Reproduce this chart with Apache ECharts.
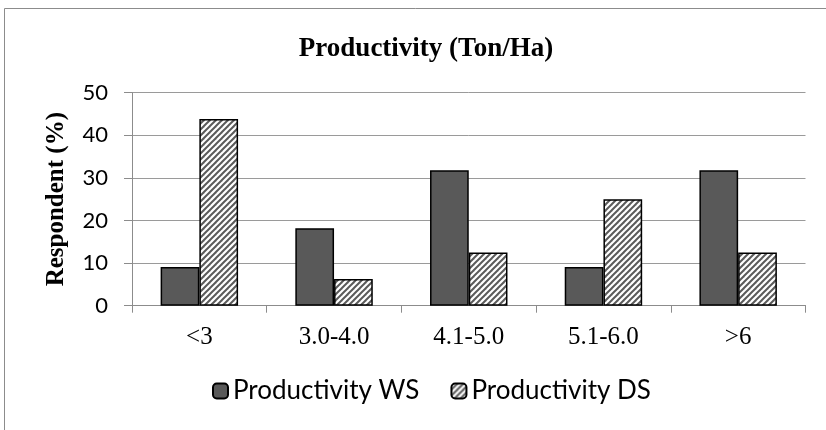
<!DOCTYPE html>
<html>
<head>
<meta charset="utf-8">
<script src="https://cdn.jsdelivr.net/npm/echarts@6/dist/echarts.min.js"></script>
<style>
html,body{margin:0;padding:0;background:#fff;}
#c{width:826px;height:430px;}
</style>
</head>
<body>
<div id="c"></div>
<script>
const categories = ['<3', '3.0-4.0', '4.1-5.0', '5.1-6.0', '>6'];
const productivityWS = [9.1, 18.2, 31.8, 9.1, 31.8];
const productivityDS = [43.8, 6.25, 12.5, 25.0, 12.5];
const seriesNames = ['Productivity WS', 'Productivity DS'];

function hatch() {
  const s = 6;
  const cv = document.createElement('canvas');
  cv.width = s; cv.height = s;
  const ctx = cv.getContext('2d');
  ctx.fillStyle = '#ffffff';
  ctx.fillRect(0, 0, s, s);
  ctx.strokeStyle = '#5a5a5a';
  ctx.lineWidth = 2;
  for (let k = -1; k <= 2; k++) {
    ctx.beginPath();
    ctx.moveTo(k * s - s, s + s);
    ctx.lineTo(k * s + s + s, -s);
    ctx.stroke();
  }
  return cv;
}

const chart = echarts.init(document.getElementById('c'), null, {renderer: 'canvas'});
const sansFont = 'Lato';
const serifFont = 'Liberation Serif';

chart.setOption({
  animation: false,
  backgroundColor: '#ffffff',
  graphic: [{
    type: 'rect',
    shape: {x: 4.5, y: 8.5, width: 900, height: 500},
    style: {fill: 'none', stroke: '#8c8c8c', lineWidth: 1},
    silent: true, z: -1
  }],
  title: {
    text: 'Productivity (Ton/Ha)',
    left: 421,
    textAlign: 'center',
    top: 31,
    textStyle: {fontFamily: serifFont, fontWeight: 'bold', fontSize: 27, color: '#000'}
  },
  legend: {
    data: seriesNames,
    top: 373,
    left: 207,
    itemWidth: 15,
    itemHeight: 15,
    itemGap: 31,
    textStyle: {fontFamily: sansFont, fontSize: 26, color: '#000'}
  },
  grid: {left: 132, right: 20.5, top: 92.7, bottom: 124.3},
  xAxis: {
    type: 'category',
    data: categories,
    axisLine: {lineStyle: {color: '#8c8c8c', width: 1}},
    axisTick: {show: true, alignWithLabel: false, length: 7, lineStyle: {color: '#8c8c8c'}},
    axisLabel: {fontFamily: serifFont, fontSize: 25, color: '#000', margin: 19}
  },
  yAxis: {
    type: 'value',
    min: 0, max: 50, interval: 10,
    name: 'Respondent (%)',
    nameLocation: 'middle',
    nameGap: 63,
    nameTextStyle: {fontFamily: serifFont, fontWeight: 'bold', fontSize: 25, color: '#000'},
    axisLine: {show: true, lineStyle: {color: '#8c8c8c', width: 1}},
    axisTick: {show: true, length: 8, lineStyle: {color: '#8c8c8c'}},
    axisLabel: {fontFamily: sansFont, fontSize: 22, color: '#000', margin: 24},
    splitLine: {lineStyle: {color: '#9a9a9a', width: 1}}
  },
  series: [
    {
      name: seriesNames[0], type: 'bar', data: productivityWS,
      barGap: '0%', barCategoryGap: '42.5%',
      itemStyle: {color: '#595959', borderColor: '#000', borderWidth: 1.5}
    },
    {
      name: seriesNames[1], type: 'bar', data: productivityDS,
      barGap: '0%', barCategoryGap: '42.5%',
      itemStyle: {color: {image: hatch(), repeat: 'repeat'}, borderColor: '#000', borderWidth: 1.5}
    }
  ]
});
</script>
</body>
</html>
